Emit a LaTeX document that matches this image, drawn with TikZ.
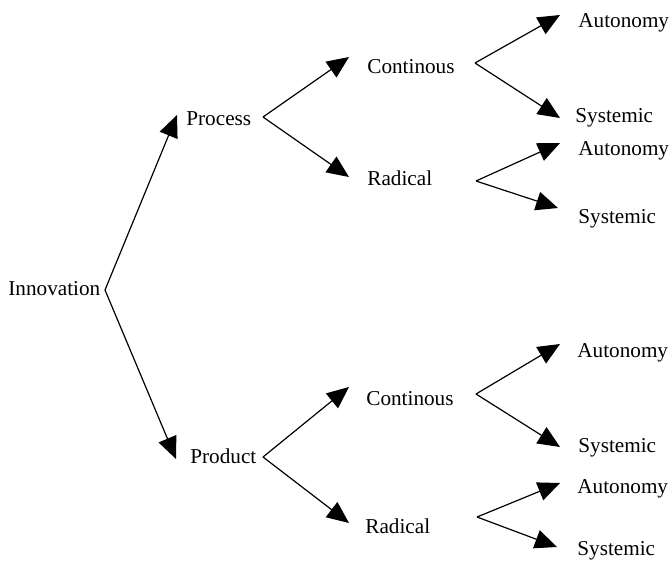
\documentclass[tikz,border=0pt]{standalone}
\usepackage{fontspec}
\setmainfont{Liberation Serif}
\usetikzlibrary{arrows.meta}
\begin{document}
\begin{tikzpicture}[x=0.5pt,y=-0.5pt,
  term/.style={anchor=base west,inner sep=0pt,font=\fontsize{10.6}{12}\selectfont},
  branch/.style={-{Triangle[length=11pt,width=9.5pt]},line width=0.6pt,line join=miter},
  ]
\useasboundingbox (0,0) rectangle (670,562);

% labels
\node[term] (innov) at (8,295) {Innovation};
\node[term] (proc)  at (186,125) {Process};
\node[term] (prod)  at (190,463) {Product};

\node[term] (cont1) at (367,73) {Continous};
\node[term] (rad1)  at (367,185) {Radical};
\node[term] (cont2) at (366,405) {Continous};
\node[term] (rad2)  at (365,533) {Radical};

\node[term] (aut1) at (578,27)  {Autonomy};
\node[term] (sys1) at (575,122) {Systemic};
\node[term] (aut2) at (578,155) {Autonomy};
\node[term] (sys2) at (578,223) {Systemic};
\node[term] (aut3) at (577,357) {Autonomy};
\node[term] (sys3) at (578,452) {Systemic};
\node[term] (aut4) at (577,493) {Autonomy};
\node[term] (sys4) at (577,555) {Systemic};

% branching points
\coordinate (vInnov) at (105,290);
\coordinate (vProc)  at (263,117);
\coordinate (vProd)  at (263,457);
\coordinate (vCont1) at (475,63);
\coordinate (vRad1)  at (476,181);
\coordinate (vCont2) at (476,394);
\coordinate (vRad2)  at (477,517);

% arrow tips
\coordinate (tProc)  at (177,115);
\coordinate (tProd)  at (176,459);
\coordinate (tCont1) at (349,57);
\coordinate (tRad1)  at (349,177);
\coordinate (tCont2) at (349,387);
\coordinate (tRad2)  at (349,523);
\coordinate (tAut1)  at (560,15);
\coordinate (tSys1)  at (560,118);
\coordinate (tAut2)  at (560,143);
\coordinate (tSys2)  at (558,208);
\coordinate (tAut3)  at (560,344);
\coordinate (tSys3)  at (560,447);
\coordinate (tAut4)  at (560,483);
\coordinate (tSys4)  at (557,547);

% connectors
\draw[branch] (vInnov) -- (tProc);
\draw[branch] (vInnov) -- (tProd);
\draw[branch] (vProc) -- (tCont1);
\draw[branch] (vProc) -- (tRad1);
\draw[branch] (vProd) -- (tCont2);
\draw[branch] (vProd) -- (tRad2);
\draw[branch] (vCont1) -- (tAut1);
\draw[branch] (vCont1) -- (tSys1);
\draw[branch] (vRad1) -- (tAut2);
\draw[branch] (vRad1) -- (tSys2);
\draw[branch] (vCont2) -- (tAut3);
\draw[branch] (vCont2) -- (tSys3);
\draw[branch] (vRad2) -- (tAut4);
\draw[branch] (vRad2) -- (tSys4);
\end{tikzpicture}
\end{document}
